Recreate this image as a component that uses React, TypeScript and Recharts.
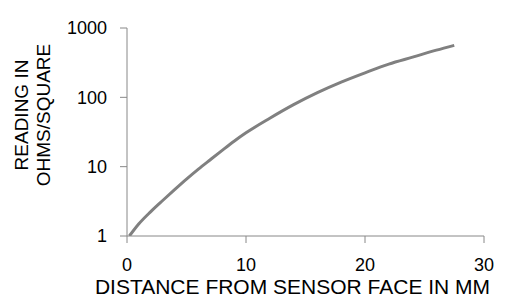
import React from "react";
import { LineChart, Line, XAxis, YAxis } from "recharts";

const distances = [0.2, 1, 2, 3, 4, 5, 6, 7, 8, 9, 10, 12, 14, 16, 18, 20, 22, 24, 26, 27.5];
const readings = [1.0, 1.5, 2.25, 3.25, 4.65, 6.6, 9.2, 12.6, 17.2, 23.3, 30.8, 50, 78.5, 117, 166, 226, 302, 380, 479, 562];
const xTicks = [0, 10, 20, 30];
const yTicks = [1, 10, 100, 1000];

const data = distances.map((d, i) => ({ d, r: readings[i] }));

const font = "'Liberation Sans', Arial, sans-serif";
const axisColor = "#888888";

const YTitle = () => (
  <g fontFamily={font} fontSize={19} fill="#000">
    <text transform="translate(21,115) rotate(-90)" textAnchor="middle" dominantBaseline="central">
      READING IN
    </text>
    <text transform="translate(43,115) rotate(-90)" textAnchor="middle" dominantBaseline="central">
      OHMS/SQUARE
    </text>
  </g>
);

export default function App() {
  return (
    <div style={{ position: "absolute", left: 0, top: 0, width: 525, height: 305, background: "#fff" }}>
      <LineChart width={525} height={305} data={data} margin={{ top: 28, right: 41, bottom: 0, left: 0 }}>
        <XAxis
          dataKey="d"
          type="number"
          domain={[0, 30]}
          ticks={xTicks}
          height={69}
          tickSize={7}
          tickMargin={15}
          stroke={axisColor}
          tick={{ fill: "#000", fontSize: 18, fontFamily: font }}
          label={{
            value: "DISTANCE FROM SENSOR FACE IN MM",
            position: "insideBottom",
            offset: 11,
            dx: -13,
            fontSize: 21,
            fontFamily: font,
            fill: "#000",
          }}
        />
        <YAxis
          type="number"
          scale="log"
          domain={[1, 1000]}
          ticks={yTicks}
          width={127}
          tickSize={7}
          tickMargin={13}
          stroke={axisColor}
          allowDataOverflow
          tick={{ fill: "#000", fontSize: 18, fontFamily: font }}
          label={{ content: () => <YTitle /> }}
        />
        <Line
          dataKey="r"
          type="monotone"
          stroke="#808080"
          strokeWidth={3}
          dot={false}
          isAnimationActive={false}
        />
      </LineChart>
    </div>
  );
}
